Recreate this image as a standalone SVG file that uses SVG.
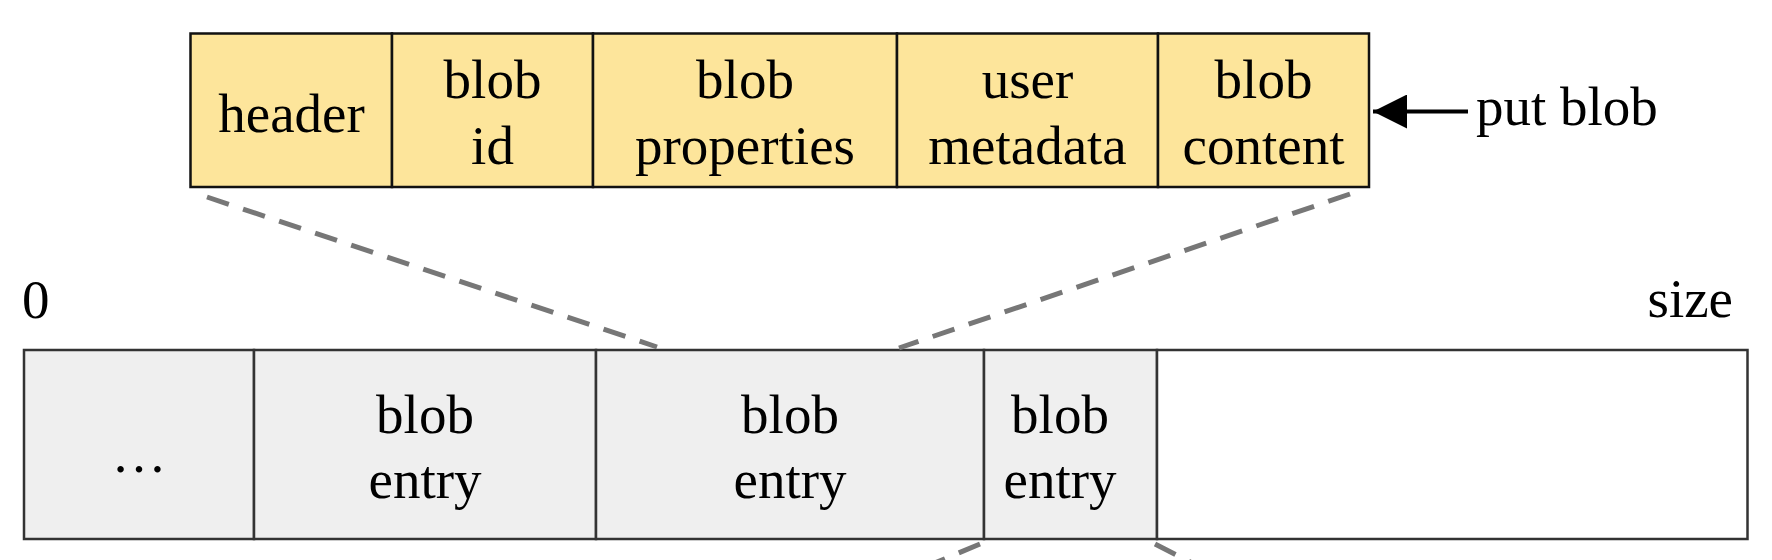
<svg xmlns="http://www.w3.org/2000/svg" width="1772" height="560" viewBox="0 0 1772 560">
<defs>
<style>
text{font-family:"Liberation Serif","Times New Roman",serif;font-size:55px;fill:#000;text-anchor:middle}
.top{fill:#fde59b;stroke:#111;stroke-width:2.5}
.bot{fill:#efefef;stroke:#333;stroke-width:2.5}
.empty{fill:#fff;stroke:#333;stroke-width:2.5}
.dash{stroke:#777;stroke-width:5;stroke-dasharray:23 15;fill:none}
</style>
<marker id="ah" markerWidth="34" markerHeight="34" viewBox="0 0 34 34" refX="34" refY="17" orient="auto" markerUnits="userSpaceOnUse">
<path d="M0,0 L34,17 L0,34 Z" fill="#000"/>
</marker>
</defs>
<rect width="1772" height="560" fill="#fff"/>
<g id="header"><rect class="top" x="190.5" y="33.5" width="201.5" height="153.5"/><text x="291.5" y="132">header</text></g>
<g id="blob-id"><rect class="top" x="392" y="33.5" width="201" height="153.5"/><text x="492.5" y="98">blob</text><text x="492.5" y="164">id</text></g>
<g id="blob-properties"><rect class="top" x="593" y="33.5" width="304" height="153.5"/><text x="745" y="98">blob</text><text x="745" y="164">properties</text></g>
<g id="user-metadata"><rect class="top" x="897" y="33.5" width="261" height="153.5"/><text x="1027.5" y="98">user</text><text x="1027.5" y="164">metadata</text></g>
<g id="blob-content"><rect class="top" x="1158" y="33.5" width="211" height="153.5"/><text x="1263.5" y="98">blob</text><text x="1263.5" y="164">content</text></g>
<g id="put-blob"><text x="1476" y="125" style="text-anchor:start">put blob</text></g>
<g id="label-0"><text x="22" y="318" style="text-anchor:start">0</text></g>
<g id="label-size"><text x="1733" y="317" style="text-anchor:end">size</text></g>
<g id="cell-ellipsis"><rect class="bot" x="24" y="350" width="230" height="189"/><text x="139" y="472">…</text></g>
<g id="entry-1"><rect class="bot" x="254" y="350" width="342" height="189"/><text x="425" y="433">blob</text><text x="425" y="498">entry</text></g>
<g id="entry-2"><rect class="bot" x="596" y="350" width="388" height="189"/><text x="790" y="433">blob</text><text x="790" y="498">entry</text></g>
<g id="entry-3"><rect class="bot" x="984" y="350" width="173" height="189"/><text x="1060" y="433">blob</text><text x="1060" y="498">entry</text></g>
<g id="free-space"><rect class="empty" x="1157" y="350" width="590.5" height="189"/></g>
<g id="connectors">
<line class="dash" x1="207" y1="197" x2="657" y2="347"/>
<line class="dash" x1="1350" y1="194" x2="899" y2="348"/>
<line class="dash" x1="980" y1="544" x2="930" y2="565"/>
<line class="dash" x1="1155" y1="544" x2="1198" y2="566"/>
<line x1="1468" y1="111.5" x2="1373" y2="111.5" stroke="#000" stroke-width="4" marker-end="url(#ah)"/>
</g>
</svg>
